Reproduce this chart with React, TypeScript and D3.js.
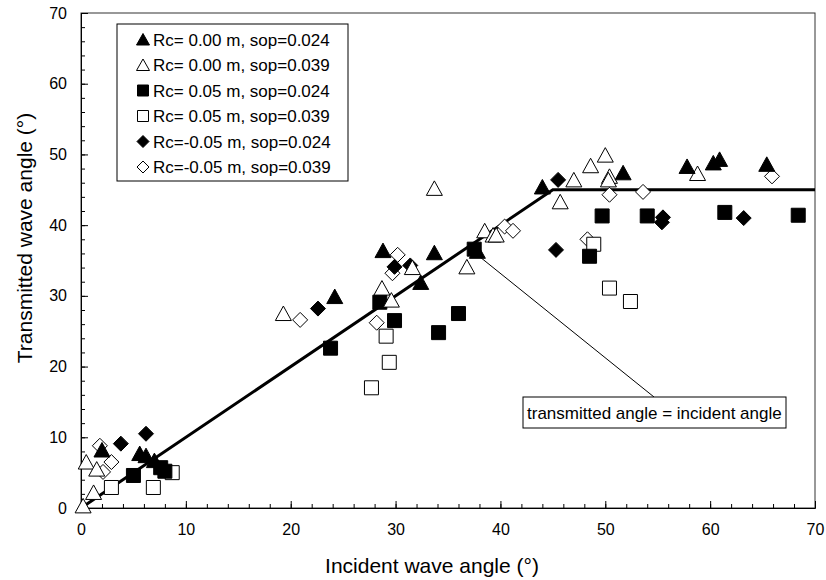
import React, { useRef, useEffect } from "react";
import * as d3 from "d3";

// [incident, transmitted] pairs
const rc000sop024 = [
  [2.0, 8.2], [5.6, 7.7], [6.2, 7.4], [7.0, 6.7], [24.2, 29.9], [28.8, 36.4],
  [32.4, 31.9], [33.7, 36.1], [37.8, 36.3], [44.0, 45.4], [51.7, 47.4],
  [57.8, 48.3], [60.3, 48.8], [60.9, 49.3], [65.4, 48.6],
];
const rc000sop039 = [
  [0.2, 0.3], [0.5, 6.5], [1.2, 2.2], [1.5, 5.5], [19.3, 27.5], [28.7, 31.1],
  [29.6, 29.4], [31.6, 34.0], [33.7, 45.2], [36.8, 34.1], [38.5, 39.2],
  [39.3, 38.6], [39.6, 38.6], [45.7, 43.3], [47.0, 46.4], [48.6, 48.4],
  [50.0, 49.9], [50.4, 46.9], [50.3, 46.4], [58.8, 47.3],
];
const rc005sop024 = [
  [5.0, 4.6], [7.6, 5.7], [8.0, 5.2], [23.8, 22.6], [28.5, 29.1], [29.9, 26.5],
  [34.1, 24.8], [36.0, 27.5], [37.5, 36.6], [48.5, 35.6], [49.7, 41.3],
  [54.0, 41.3], [61.4, 41.8], [68.4, 41.4],
];
const rc005sop039 = [
  [2.9, 2.9], [6.9, 2.9], [8.7, 5.0], [27.7, 17.0], [29.4, 20.6], [29.1, 24.3],
  [48.9, 37.3], [50.4, 31.1], [52.4, 29.2],
];
const rcm005sop024 = [
  [3.8, 9.1], [6.2, 10.5], [22.6, 28.2], [29.9, 34.1], [31.4, 34.3],
  [45.3, 36.5], [45.5, 46.4], [55.5, 41.1], [55.4, 40.4], [63.2, 41.0],
];
const rcm005sop039 = [
  [1.8, 8.8], [2.1, 5.1], [2.9, 6.5], [20.9, 26.6], [28.2, 26.2], [29.7, 33.2],
  [30.2, 35.8], [40.4, 39.8], [41.2, 39.2], [48.3, 38.0], [50.4, 44.3],
  [53.6, 44.7], [65.9, 46.9],
];

const seriesNames = [
  "Rc= 0.00 m, sop=0.024",
  "Rc= 0.00 m, sop=0.039",
  "Rc= 0.05 m, sop=0.024",
  "Rc= 0.05 m, sop=0.039",
  "Rc=-0.05 m, sop=0.024",
  "Rc=-0.05 m, sop=0.039",
];
const seriesData = [rc000sop024, rc000sop039, rc005sop024, rc005sop039, rcm005sop024, rcm005sop039];
const seriesShape = ["triangle", "triangle", "square", "square", "diamond", "diamond"];
const seriesFilled = [true, false, true, false, true, false];

// bilinear trend: transmitted = incident up to 45, then constant
const trendX = [0, 45, 70];
const trendY = [0, 45, 45];

const xTicks = [0, 10, 20, 30, 40, 50, 60, 70];
const yTicks = [0, 10, 20, 30, 40, 50, 60, 70];

const markerPath = (shape: string, s: number) => {
  const h = s / 2;
  if (shape === "triangle") return `M0,${-h}L${h + 0.5},${h - 0.5}L${-h - 0.5},${h - 0.5}Z`;
  if (shape === "square") return `M${-h},${-h}H${h}V${h}H${-h}Z`;
  return `M0,${-h}L${h},0L0,${h}L${-h},0Z`;
};

const App = () => {
  const ref = useRef<SVGSVGElement>(null);

  useEffect(() => {
    const width = 826;
    const height = 580;
    const margin = { top: 13, right: 11, bottom: 72, left: 81 };
    const innerW = width - margin.left - margin.right;
    const innerH = height - margin.top - margin.bottom;
    const font = "Liberation Sans, Arial, sans-serif";

    const svg = d3.select(ref.current);
    svg.selectAll("*").remove();

    const g = svg.append("g").attr("transform", `translate(${margin.left},${margin.top})`);

    const x = d3.scaleLinear().domain([0, 70]).range([0, innerW]);
    const y = d3.scaleLinear().domain([0, 70]).range([innerH, 0]);

    // frame
    g.append("rect")
      .attr("width", innerW)
      .attr("height", innerH)
      .attr("fill", "none")
      .attr("stroke", "#333")
      .attr("stroke-width", 1);

    // axes with inward ticks
    const xAxis = g.append("g").attr("transform", `translate(0,${innerH})`);
    xAxis.call(d3.axisBottom(x).tickValues(d3.range(0, 71, 2)).tickSize(-4).tickFormat(() => ""));
    xAxis.call((s) => s.select(".domain").remove());
    const xMajor = g.append("g").attr("transform", `translate(0,${innerH})`);
    xMajor.call(d3.axisBottom(x).tickValues(xTicks).tickSize(-7).tickPadding(16).tickFormat(d3.format("d")));
    xMajor.select(".domain").attr("stroke", "#000");

    const yAxis = g.append("g");
    yAxis.call(d3.axisLeft(y).tickValues(d3.range(0, 71, 2)).tickSize(-4).tickFormat(() => ""));
    yAxis.call((s) => s.select(".domain").remove());
    const yMajor = g.append("g");
    yMajor.call(d3.axisLeft(y).tickValues(yTicks).tickSize(-7).tickPadding(14).tickFormat(d3.format("d")));
    yMajor.select(".domain").attr("stroke", "#000");

    svg.selectAll(".tick text").attr("font-family", font).attr("font-size", 16).attr("fill", "#000");
    svg.selectAll(".tick line").attr("stroke", "#000");

    // axis titles
    svg.append("text")
      .attr("x", margin.left + innerW / 2 - 16)
      .attr("y", 573)
      .attr("text-anchor", "middle")
      .attr("font-family", font)
      .attr("font-size", 21)
      .text("Incident wave angle (°)");
    svg.append("text")
      .attr("transform", `translate(32,${238}) rotate(-90)`)
      .attr("text-anchor", "middle")
      .attr("font-family", font)
      .attr("font-size", 21)
      .text("Transmitted wave angle (°)");

    // trend line
    const line = d3.line<number>().x((d) => x(d)).y((d, i) => y(trendY[i]));
    g.append("path")
      .attr("d", line(trendX))
      .attr("fill", "none")
      .attr("stroke", "#000")
      .attr("stroke-width", 3);

    // markers, last series drawn first
    for (let k = seriesData.length - 1; k >= 0; k--) {
      g.append("g")
        .selectAll("path")
        .data(seriesData[k])
        .enter()
        .append("path")
        .attr("transform", (d) => `translate(${x(d[0])},${y(d[1])})`)
        .attr("d", markerPath(seriesShape[k], seriesShape[k] === "square" ? 14 : 15))
        .attr("fill", seriesFilled[k] ? "#000" : "#fff")
        .attr("stroke", "#000")
        .attr("stroke-width", 1);
    }

    // legend
    const legend = svg.append("g").attr("transform", "translate(117,24)");
    legend.append("rect")
      .attr("width", 231)
      .attr("height", 157)
      .attr("fill", "#fff")
      .attr("stroke", "#000");
    seriesNames.forEach((name, i) => {
      const row = legend.append("g").attr("transform", `translate(0,${15.5 + i * 25.5})`);
      row.append("path")
        .attr("transform", "translate(26,0)")
        .attr("d", markerPath(seriesShape[i], seriesShape[i] === "square" ? 11 : 12))
        .attr("fill", seriesFilled[i] ? "#000" : "#fff")
        .attr("stroke", "#000");
      row.append("text")
        .attr("x", 36)
        .attr("y", 6)
        .attr("font-family", font)
        .attr("font-size", 17)
        .text(name);
    });

    // annotation
    svg.append("line")
      .attr("x1", 480)
      .attr("y1", 257)
      .attr("x2", 654)
      .attr("y2", 397)
      .attr("stroke", "#000")
      .attr("stroke-width", 1);
    svg.append("rect")
      .attr("x", 523)
      .attr("y", 397)
      .attr("width", 263)
      .attr("height", 31)
      .attr("fill", "#fff")
      .attr("stroke", "#000");
    svg.append("text")
      .attr("x", 527)
      .attr("y", 419)
      .attr("font-family", font)
      .attr("font-size", 17)
      .text("transmitted angle = incident angle");
  }, []);

  return (
    <svg
      ref={ref}
      width={826}
      height={580}
      style={{ position: "absolute", left: 0, top: 0, background: "#fff" }}
    />
  );
};

export default App;
